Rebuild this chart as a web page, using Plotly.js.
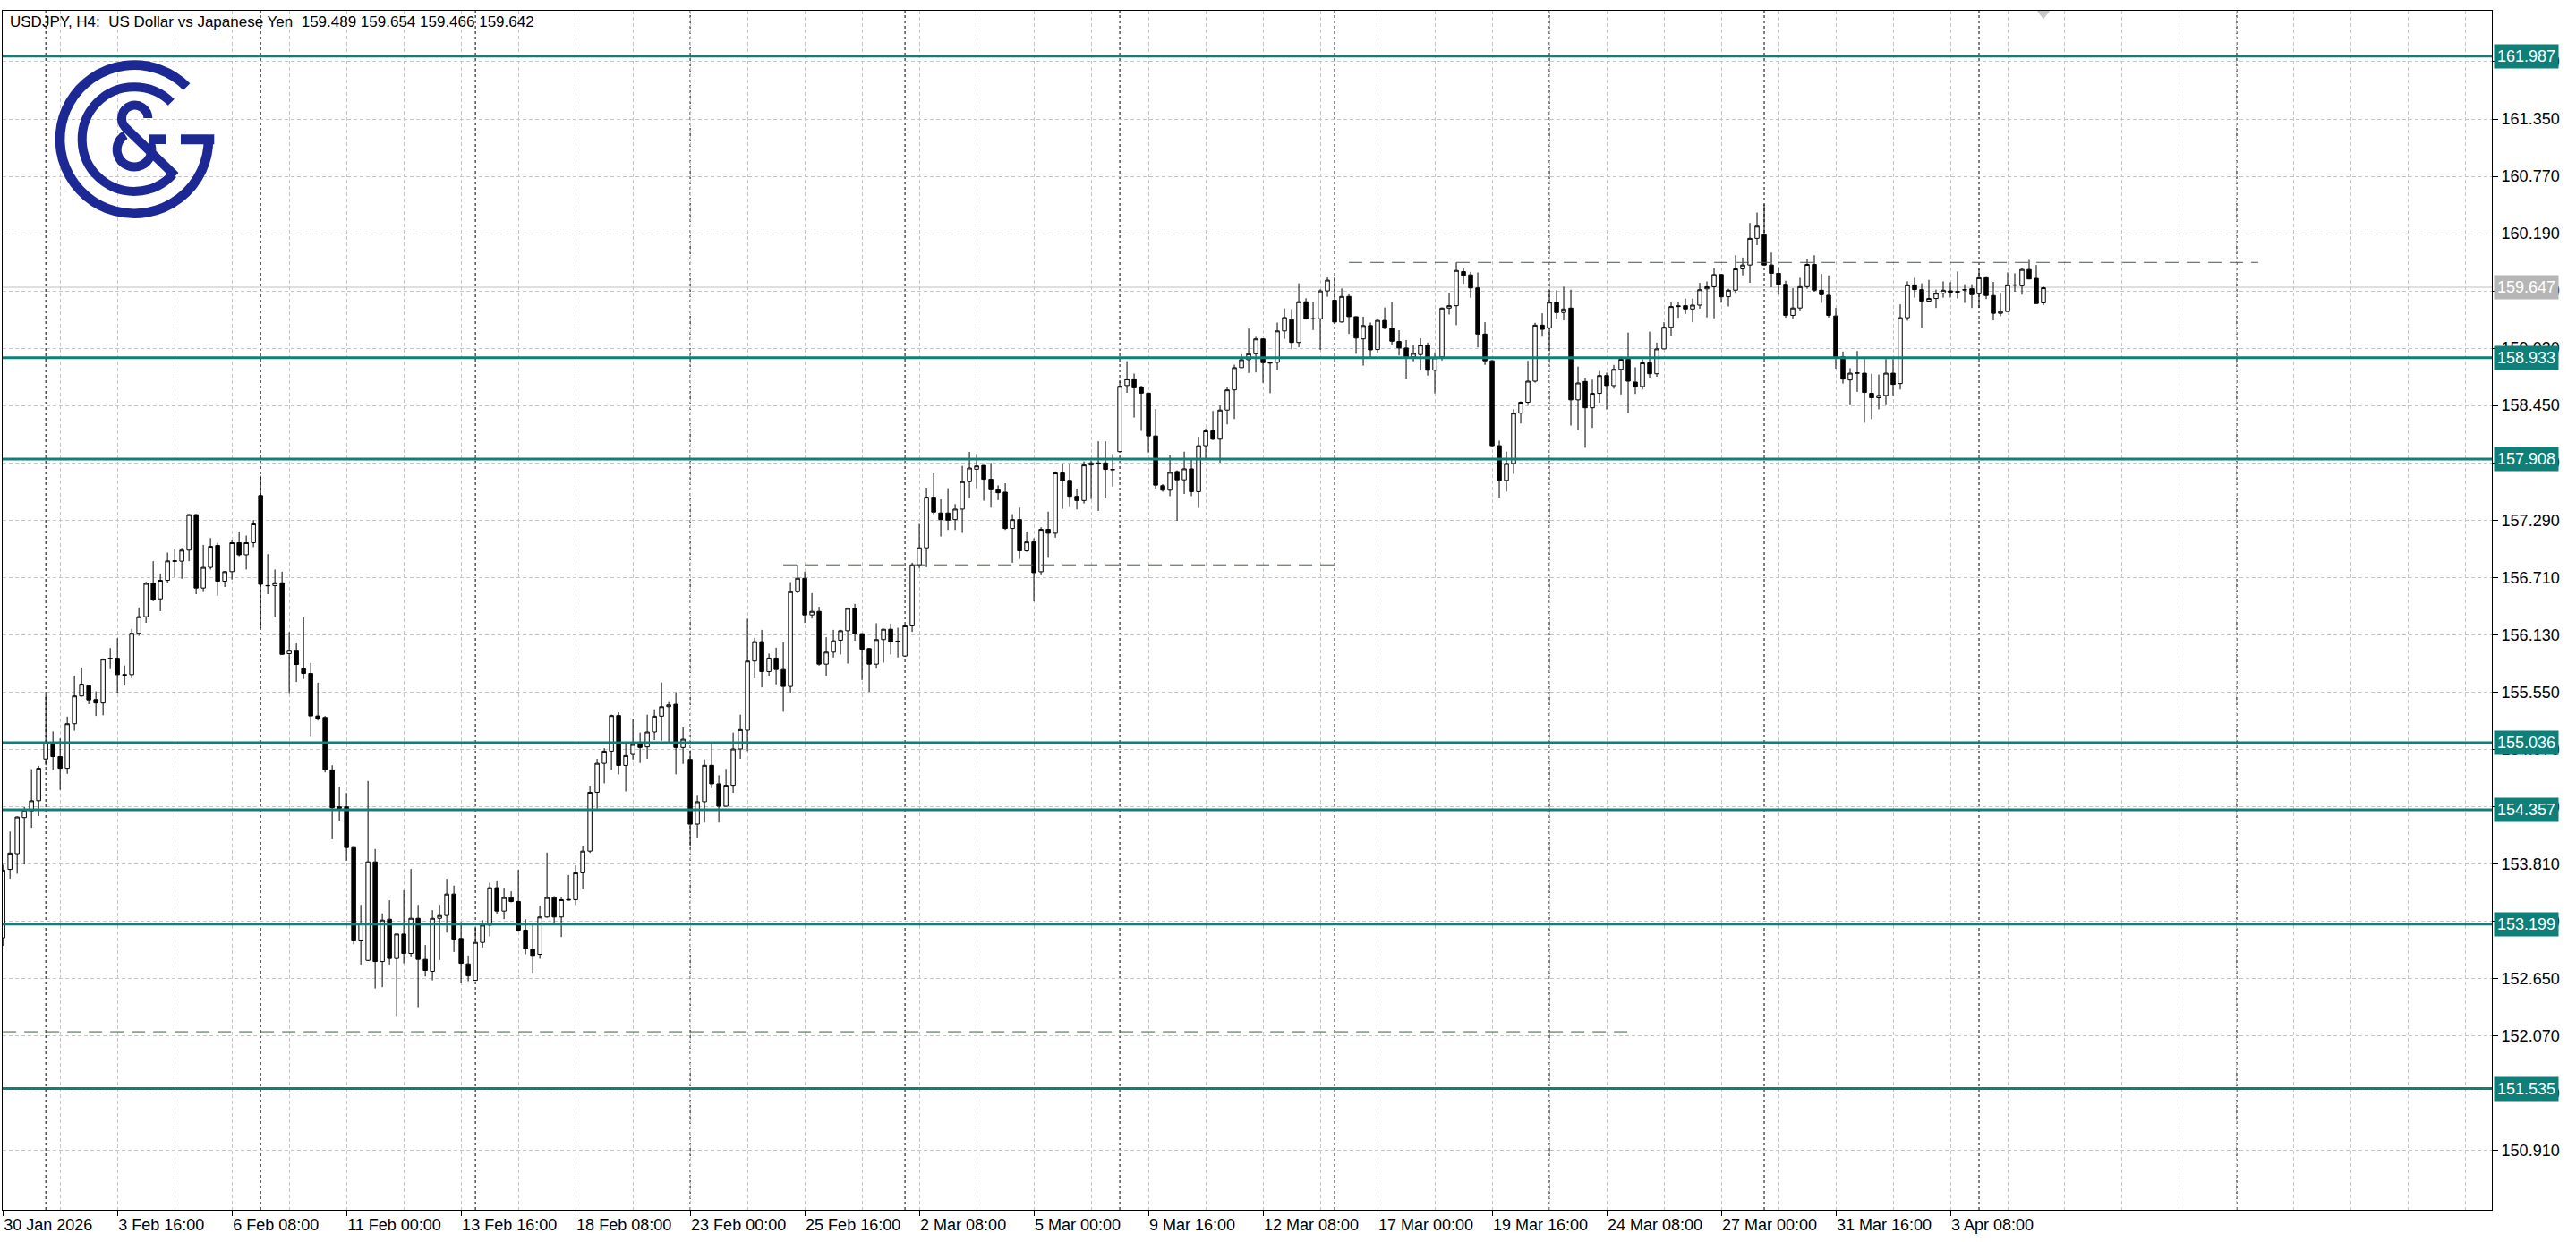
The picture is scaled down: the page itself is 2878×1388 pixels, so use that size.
<!DOCTYPE html>
<html>
<head>
<meta charset="utf-8">
<script src="https://cdn.plot.ly/plotly-3.0.1.min.js"></script>
<style>
html,body{margin:0;padding:0;background:#ffffff;}
#chart{width:2878px;height:1388px;}
</style>
</head>
<body>
<div id="chart"></div>
<script>
// ---------- DATA (USDJPY, H4) ----------
const headerText = "USDJPY, H4:\u00a0\u00a0US Dollar vs Japanese Yen\u00a0\u00a0159.489 159.654 159.466 159.642";

const opens = [
153.061,153.754,153.913,154.278,154.346,154.449,154.871,155.027,154.896,154.777,
155.229,155.510,155.613,155.473,155.438,155.891,155.891,155.726,155.726,156.144,
156.312,156.649,156.493,156.680,156.877,156.874,156.986,157.345,156.602,156.811,
157.033,156.671,156.768,157.061,156.939,157.061,157.538,156.627,156.627,156.655,
155.938,155.972,155.785,155.738,155.307,155.292,154.761,154.387,154.387,153.975,
153.030,152.833,153.830,152.821,153.250,152.852,153.099,152.903,153.259,152.843,
152.722,153.259,153.287,153.504,153.054,152.797,152.631,153.015,153.190,153.568,
153.332,153.468,153.429,153.139,152.948,152.894,153.272,153.468,153.272,153.450,
153.447,153.719,153.939,154.534,154.827,154.951,155.311,154.806,154.918,155.018,
154.994,155.145,155.305,155.401,155.425,154.988,154.867,154.212,154.439,154.807,
154.620,154.393,154.605,154.973,155.163,155.863,156.059,155.757,155.893,155.778,
155.606,156.565,156.701,156.330,156.366,155.832,155.953,156.074,156.170,156.396,
156.140,155.989,155.832,156.080,156.185,156.065,155.914,156.219,156.837,157.009,
157.522,157.362,157.362,157.295,157.401,157.679,157.805,157.844,157.703,157.597,
157.573,157.205,157.295,156.979,157.069,156.767,157.196,157.157,157.767,157.692,
157.530,157.488,157.848,157.869,157.869,157.803,157.983,158.652,158.719,158.638,
158.575,158.142,157.638,157.593,157.782,157.698,157.809,157.578,158.043,158.193,
158.109,158.404,158.608,158.833,158.914,158.974,159.124,158.884,158.887,159.205,
159.319,159.088,159.500,159.325,159.328,159.610,159.515,159.295,159.554,159.349,
159.124,159.259,159.017,159.311,159.233,159.098,159.032,158.942,158.966,159.062,
158.807,158.942,159.436,159.460,159.805,159.772,159.640,159.173,158.903,158.043,
157.692,157.863,158.373,158.483,158.696,159.263,159.236,159.496,159.391,159.436,
158.507,158.693,158.427,158.573,158.753,158.651,158.816,158.918,158.687,158.642,
158.882,158.771,159.023,159.242,159.451,159.460,159.427,159.466,159.631,159.652,
159.775,159.551,159.617,159.833,159.872,160.142,160.178,159.872,159.788,159.677,
159.362,159.437,159.653,159.878,159.617,159.566,159.356,158.942,158.708,158.777,
158.777,158.573,158.528,158.552,158.777,158.672,159.338,159.671,159.623,159.506,
159.533,159.587,159.611,159.604,159.623,159.632,159.581,159.743,159.563,159.383,
159.401,159.671,159.662,159.827,159.737,159.489
];
const highs = [
153.800,154.137,154.290,154.384,154.768,154.802,155.526,155.151,155.080,155.301,
155.713,155.797,155.620,155.557,155.890,155.994,156.094,155.819,156.190,156.406,
156.665,156.874,156.749,156.961,156.998,157.008,157.351,157.351,157.039,157.108,
157.061,156.775,157.092,157.173,157.133,157.289,157.740,156.946,156.790,156.768,
156.156,156.041,156.306,155.844,155.644,155.307,154.808,154.590,154.527,153.980,
153.395,154.649,153.960,153.308,153.441,153.100,153.543,153.758,153.395,152.988,
153.341,153.395,153.658,153.589,153.220,152.882,153.175,153.241,153.619,153.634,
153.568,153.531,153.749,153.250,153.190,153.386,153.924,153.483,153.468,153.697,
153.794,153.991,154.601,154.873,154.981,155.320,155.344,155.027,155.281,155.139,
155.320,155.374,155.646,155.456,155.546,155.190,154.957,154.499,154.867,155.024,
154.707,154.771,155.139,155.320,156.291,156.098,156.179,155.938,155.998,156.053,
156.662,156.837,156.767,156.550,156.412,156.104,156.179,156.180,156.406,156.442,
156.145,155.995,156.246,156.190,156.240,156.200,156.225,156.858,157.250,157.618,
157.763,157.500,157.612,157.452,157.838,157.980,157.959,157.845,157.869,157.642,
157.663,157.350,157.416,157.175,157.106,157.217,157.376,157.782,157.857,157.854,
157.608,157.884,157.893,158.088,158.088,157.959,158.695,158.899,158.773,158.650,
158.580,158.413,157.653,157.953,157.794,157.983,157.899,158.133,158.217,158.395,
158.449,158.635,158.863,158.968,159.229,159.145,159.130,158.890,159.289,159.433,
159.424,159.686,159.536,159.500,159.626,159.746,159.746,159.635,159.575,159.350,
159.349,159.289,159.332,159.442,159.496,159.212,159.113,159.062,159.131,159.086,
158.987,159.442,159.586,159.898,159.841,159.802,159.796,159.293,158.910,158.094,
157.983,158.412,158.492,158.903,159.287,159.383,159.616,159.616,159.652,159.622,
158.843,158.732,158.711,158.801,158.783,158.861,158.948,159.188,158.837,158.918,
159.197,159.086,159.293,159.496,159.496,159.532,159.532,159.691,159.706,159.841,
159.780,159.632,159.971,159.947,160.298,160.403,160.487,159.998,159.851,159.713,
159.638,159.743,159.932,159.971,159.782,159.767,159.437,158.996,158.828,159.002,
158.921,158.771,158.762,158.921,158.921,159.473,159.707,159.743,159.686,159.722,
159.623,159.707,159.698,159.806,159.677,159.677,159.833,159.750,159.701,159.581,
159.797,159.788,159.842,159.923,159.872,159.654
];
const lows = [
152.980,153.660,153.710,153.804,154.175,154.293,154.808,154.761,154.559,154.721,
155.158,155.504,155.426,155.307,155.314,155.782,155.538,155.616,155.688,156.119,
156.250,156.468,156.368,156.649,156.711,156.696,156.874,156.540,156.562,156.790,
156.524,156.612,156.687,156.924,156.790,157.017,156.197,156.540,156.306,155.925,
155.532,155.651,155.682,155.095,155.261,154.736,154.059,154.247,153.841,152.994,
152.791,152.827,152.549,152.562,152.791,152.269,152.803,152.873,152.359,152.670,
152.631,152.837,153.114,152.918,152.601,152.622,152.625,152.963,153.075,153.302,
153.250,153.420,153.130,152.894,152.707,152.849,153.265,153.205,153.069,153.440,
153.392,153.552,153.921,154.368,154.625,154.761,154.716,154.543,154.867,154.830,
154.873,155.063,155.057,155.042,154.716,154.821,153.991,154.077,154.228,154.574,
154.228,154.390,154.529,154.873,154.952,155.688,155.597,155.706,155.627,155.350,
155.537,156.550,156.249,156.294,155.817,155.712,155.899,155.929,155.838,156.068,
155.672,155.552,155.787,155.847,155.929,155.899,155.908,156.158,156.804,156.813,
157.350,157.124,157.190,157.190,157.160,157.513,157.612,157.486,157.416,157.492,
157.190,156.858,156.897,156.970,156.466,156.731,156.908,157.112,157.404,157.422,
157.398,157.458,157.503,157.383,157.518,157.629,157.980,158.578,158.328,158.193,
157.974,157.608,157.578,157.533,157.283,157.554,157.533,157.413,157.908,158.100,
157.872,158.259,158.313,158.830,158.779,158.785,158.680,158.575,158.809,159.124,
159.019,159.040,159.320,159.214,159.013,159.551,159.274,159.290,159.175,158.974,
158.854,158.923,158.987,159.221,159.062,158.957,158.723,158.897,158.807,158.753,
158.573,158.906,159.371,159.263,159.682,159.541,159.038,158.861,158.028,157.519,
157.579,157.758,158.268,158.454,158.681,159.146,159.002,159.326,159.311,158.247,
158.202,158.022,158.223,158.478,158.409,158.621,158.561,158.373,158.567,158.612,
158.732,158.741,159.020,159.158,159.338,159.376,159.293,159.430,159.341,159.332,
159.490,159.452,159.581,159.767,159.692,160.073,159.863,159.647,159.572,159.338,
159.323,159.413,159.632,159.602,159.488,159.341,158.822,158.672,158.453,158.588,
158.276,158.312,158.411,158.453,158.552,158.612,159.308,159.542,159.236,159.497,
159.437,159.542,159.542,159.533,159.488,159.437,159.437,159.527,159.311,159.353,
159.400,159.602,159.572,159.730,159.480,159.466
];
const closes = [
153.747,153.919,154.284,154.346,154.449,154.777,155.036,154.896,154.777,155.229,
155.510,155.629,155.470,155.438,155.882,155.885,155.726,155.722,156.144,156.312,
156.649,156.484,156.680,156.877,156.874,156.986,157.345,156.602,156.811,157.024,
156.671,156.768,157.061,156.939,157.061,157.251,156.640,156.625,156.655,155.931,
155.972,155.829,155.738,155.307,155.276,154.761,154.378,154.371,153.975,153.030,
153.205,153.830,152.821,153.241,152.852,153.099,152.903,153.259,152.843,152.731,
153.259,153.287,153.504,153.048,152.803,152.676,153.015,153.190,153.568,153.332,
153.468,153.429,153.139,152.948,152.882,153.272,153.468,153.272,153.447,153.444,
153.719,153.939,154.534,154.827,154.951,155.311,154.806,154.906,155.018,154.988,
155.145,155.305,155.401,155.419,154.988,155.072,154.211,154.439,154.807,154.620,
154.393,154.605,154.973,155.169,155.863,156.059,155.757,155.893,155.778,155.606,
156.565,156.701,156.330,156.366,155.832,155.953,156.068,156.170,156.396,156.140,
155.983,155.832,156.080,156.185,156.059,156.059,156.219,156.837,157.009,157.522,
157.371,157.295,157.289,157.401,157.679,157.817,157.838,157.703,157.597,157.567,
157.205,157.295,156.979,157.069,156.758,157.196,157.157,157.767,157.689,157.530,
157.488,157.848,157.869,157.862,157.803,157.800,158.644,158.719,158.629,158.575,
158.142,157.644,157.593,157.773,157.698,157.809,157.578,158.043,158.193,158.109,
158.404,158.608,158.833,158.914,158.974,159.124,158.884,158.880,159.205,159.340,
159.088,159.500,159.325,159.328,159.610,159.719,159.295,159.554,159.349,159.133,
159.259,159.013,159.311,159.233,159.101,159.032,158.942,158.978,159.062,158.807,
158.933,159.436,159.460,159.817,159.766,159.640,159.173,158.903,158.043,157.692,
157.863,158.373,158.483,158.696,159.263,159.221,159.496,159.391,159.427,158.507,
158.678,158.427,158.573,158.753,158.651,158.816,158.918,158.696,158.642,158.882,
158.771,159.023,159.242,159.451,159.457,159.427,159.466,159.622,159.652,159.775,
159.550,159.617,159.833,159.872,160.142,160.265,159.872,159.788,159.677,159.362,
159.437,159.653,159.878,159.617,159.572,159.362,158.942,158.717,158.777,158.779,
158.582,158.528,158.552,158.777,158.663,159.338,159.671,159.623,159.506,159.533,
159.587,159.617,159.596,159.600,159.620,159.572,159.743,159.563,159.383,159.401,
159.671,159.668,159.827,159.731,159.482,159.642
];

// time-axis labels (bar index of each label, every 16 H4 bars)
const tickBars = [0,16,32,48,64,80,96,112,128,144,160,176,192,208,224,240,256,272];
const tickLabels = ["30 Jan 2026","3 Feb 16:00","6 Feb 08:00","11 Feb 00:00","13 Feb 16:00",
  "18 Feb 08:00","23 Feb 00:00","25 Feb 16:00","2 Mar 08:00","5 Mar 00:00","9 Mar 16:00",
  "12 Mar 08:00","17 Mar 00:00","19 Mar 16:00","24 Mar 08:00","27 Mar 00:00","31 Mar 16:00","3 Apr 08:00"];

// price-axis ticks
const priceTicks = [150.910,151.490,152.070,152.650,153.230,153.810,154.390,154.970,155.550,156.130,
  156.710,157.290,157.870,158.450,159.030,159.610,160.190,160.770,161.350,161.930];

// weekly period separators (bar index of Monday 00:00)
const weekStarts = [6,36,66,96,126,156,186,216,246,276,312];

// horizontal support / resistance levels
const levels = [161.987, 158.933, 157.908, 155.036, 154.357, 153.199, 151.535];
const bidPrice = 159.647;

// dashed trend levels
const dashPrices = [159.898, 156.837, 152.110];
const dashStart  = [188, 109, 0];
const dashEnd    = [315, 186, 227];

// ---------- STYLE ----------
const TEAL = '#0f7f79';
const GRID = '#c6c6c6';
const FONT = 'Liberation Sans, Arial, sans-serif';

const barIndex = opens.map((_, i) => i);

const candle = {
  type: 'candlestick',
  x: barIndex, open: opens, high: highs, low: lows, close: closes,
  increasing: {line: {color: '#000000', width: 1}, fillcolor: '#ffffff'},
  decreasing: {line: {color: '#000000', width: 1}, fillcolor: '#000000'},
  whiskerwidth: 0,
  hoverinfo: 'skip',
  showlegend: false
};

const shapes = [];
weekStarts.forEach(w => shapes.push({
  type: 'line', xref: 'x', yref: 'paper', x0: w, x1: w, y0: 0, y1: 1,
  line: {color: '#000000', width: 1, dash: '3px,3px'}, layer: 'between'
}));
shapes.push({
  type: 'line', xref: 'paper', yref: 'y', x0: 0, x1: 1, y0: bidPrice, y1: bidPrice,
  line: {color: '#c0c0c0', width: 1}, layer: 'between'
});
levels.forEach(v => shapes.push({
  type: 'line', xref: 'paper', yref: 'y', x0: 0, x1: 1, y0: v, y1: v,
  line: {color: TEAL, width: 3}, layer: 'above'
}));
dashPrices.forEach((p, i) => shapes.push({
  type: 'line', xref: 'x', yref: 'y', x0: dashStart[i], x1: dashEnd[i], y0: p, y1: p,
  line: {color: '#3a613a', width: 1, dash: '15px,9px'}, layer: 'above'
}));
// chart-shift marker at the top
const lastBar = opens.length - 1;
shapes.push({
  type: 'path', xref: 'x', yref: 'paper',
  path: `M ${lastBar - 0.9} 1 L ${lastBar + 0.9} 1 L ${lastBar} 0.993 Z`,
  fillcolor: '#c8c8c8', line: {width: 0}, layer: 'above'
});

const annotations = [];
annotations.push({
  xref: 'paper', yref: 'paper', x: 0.0022, y: 0.9905, xanchor: 'left', yanchor: 'middle',
  text: headerText, showarrow: false, font: {family: FONT, size: 17, color: '#000000'}
});
levels.forEach(v => annotations.push({
  xref: 'paper', yref: 'y', x: 1, y: v, xanchor: 'left', yanchor: 'middle', xshift: 2,
  text: v.toFixed(3), showarrow: false, bgcolor: TEAL, borderpad: 3,
  font: {family: FONT, size: 18, color: '#ffffff'}
}));
annotations.push({
  xref: 'paper', yref: 'y', x: 1, y: bidPrice, xanchor: 'left', yanchor: 'middle', xshift: 2,
  text: bidPrice.toFixed(3), showarrow: false, bgcolor: '#b6b6b6', borderpad: 3,
  font: {family: FONT, size: 18, color: '#ffffff'}
});

// logo (C&G)
const NAVY = '#1c2894';
const logoSvg = `<svg xmlns="http://www.w3.org/2000/svg" viewBox="0 0 660 600" width="660" height="600">
<g fill="none" stroke="${NAVY}" stroke-linecap="butt" stroke-linejoin="miter">
<path d="M506 111 A249 249 0 1 0 579 287" stroke-width="32"/>
<path d="M486 287 L598 287" stroke-width="33"/>
<path d="M454 163 A175 175 0 1 0 460 404" stroke-width="30"/>
<path d="M376 216 A44 44 0 1 0 299 246 L468 410" stroke-width="30"/>
<path d="M300 272 A58 58 0 1 0 384 300" stroke-width="30"/>
<path d="M380 287 L436 287" stroke-width="32"/>
</g></svg>`;
const logoSrc = 'data:image/svg+xml;charset=utf-8,' + encodeURIComponent(logoSvg);

const layout = {
  width: 2878, height: 1388,
  margin: {l: 3, r: 94, t: 12, b: 36, pad: 0},
  paper_bgcolor: '#ffffff', plot_bgcolor: '#ffffff',
  showlegend: false,
  font: {family: FONT, size: 18, color: '#000000'},
  boxgap: 0.2, boxgroupgap: 0.3,
  xaxis: {
    range: [-0.02, 347.63], fixedrange: true,
    tickmode: 'array', tickvals: tickBars, ticktext: tickLabels,
    ticks: 'outside', ticklen: 6, tickcolor: '#000000', tickwidth: 1,
    ticklabelposition: 'outside right',
    showline: true, linecolor: '#000000', linewidth: 1, mirror: true,
    showgrid: true, gridcolor: GRID, griddash: '4px,3px', gridwidth: 1,
    minor: {tick0: 0, dtick: 8, showgrid: true, gridcolor: GRID, griddash: '4px,3px', gridwidth: 1, ticks: ''},
    zeroline: false,
    rangeslider: {visible: false},
    tickfont: {family: FONT, size: 18, color: '#000000'}
  },
  yaxis: {
    range: [150.308, 162.446], fixedrange: true, side: 'right',
    tickmode: 'array', tickvals: priceTicks, ticktext: priceTicks.map(v => v.toFixed(3)),
    ticks: 'outside', ticklen: 6, tickcolor: '#000000', tickwidth: 1,
    showline: true, linecolor: '#000000', linewidth: 1, mirror: true,
    showgrid: true, gridcolor: GRID, griddash: '4px,3px', gridwidth: 1,
    zeroline: false,
    tickfont: {family: FONT, size: 18, color: '#000000'}
  },
  shapes: shapes,
  annotations: annotations,
  images: [{
    source: logoSrc, xref: 'paper', yref: 'paper',
    x: 0.0133, y: 0.9642, sizex: 0.0791, sizey: 0.1493,
    xanchor: 'left', yanchor: 'top', sizing: 'stretch', layer: 'above'
  }]
};

Plotly.newPlot('chart', [candle], layout, {staticPlot: true, displayModeBar: false});
</script>
</body>
</html>
